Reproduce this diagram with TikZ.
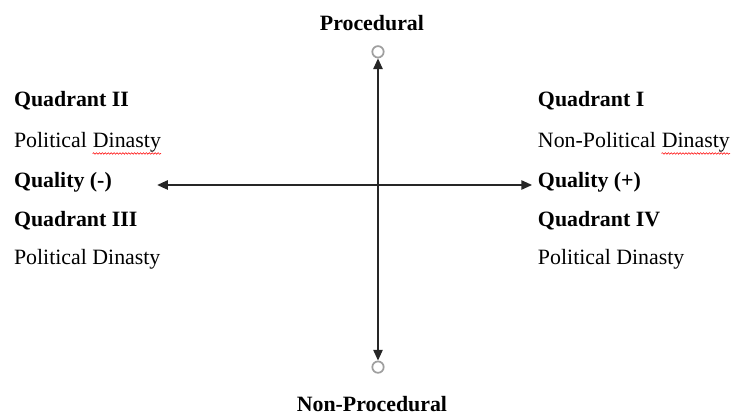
\documentclass[tikz,border=0pt]{standalone}
\usepackage{fontspec}
\setmainfont{Liberation Serif}
\usetikzlibrary{arrows.meta,decorations.pathmorphing}
\begin{document}
\begin{tikzpicture}
    [lbl/.style={anchor=base west, inner sep=0pt, font=\fontsize{16.4}{18}\selectfont},
     ttl/.style={lbl, font=\fontsize{16.4}{18}\selectfont\bfseries},
     ring/.style={circle, draw=gray!75, line width=1.3pt, minimum size=0.3cm, inner sep=0pt},
     axis/.style={line width=1.1pt, draw=black!85, {Triangle[length=8pt,width=7pt]}-{Triangle[length=8pt,width=7pt]}},
     squiggle/.style={red, line width=0.4pt, decorate, decoration={snake, segment length=2.2pt, amplitude=0.6pt}}]
    \useasboundingbox (-9.963,4.876) rectangle (9.515,-6.063);

    \node[ring] (up) at (0,3.51) {};
    \node[ring] (down) at (0,-4.8) {};
    \node[anchor=base, inner sep=0pt, font=\fontsize{16.4}{18}\selectfont\bfseries] (P) at (-0.16,4.06) {Procedural};
    \node[anchor=base, inner sep=0pt, font=\fontsize{16.4}{18}\selectfont\bfseries] (NP) at (-0.16,-5.96) {Non-Procedural};

    \coordinate (L) at (-5.82,0);
    \coordinate (R) at (4.06,0);
    \draw[axis] (down) -- (up);
    \draw[axis] (L) -- (R);

    % left side
    \node[ttl] (Q2) at (-9.6,2.06) {Quadrant II};
    \node[lbl] (D2) at (-9.6,0.98) {Political};
    \node[lbl] (W2) at ([xshift=4.1pt]D2.base east) {Dinasty};
    \node[ttl] (QM) at (-9.6,-0.07) {Quality (-)};
    \node[ttl] (Q3) at (-9.6,-1.09) {Quadrant III};
    \node[lbl] (D3) at (-9.6,-2.1) {Political Dinasty};

    % right side
    \node[ttl] (Q1) at (4.21,2.06) {Quadrant I};
    \node[lbl] (D1) at (4.21,0.98) {Non-Political};
    \node[lbl] (W1) at ([xshift=4.1pt]D1.base east) {Dinasty};
    \node[ttl] (QP) at (4.21,-0.07) {Quality (+)};
    \node[ttl] (Q4) at (4.21,-1.09) {Quadrant IV};
    \node[lbl] (D4) at (4.21,-2.1) {Political Dinasty};

    % spelling marks
    \draw[squiggle] ([yshift=-0.5pt]W2.south west) -- ([yshift=-0.5pt]W2.south east);
    \draw[squiggle] ([yshift=-0.5pt]W1.south west) -- ([yshift=-0.5pt]W1.south east);
\end{tikzpicture}
\end{document}
